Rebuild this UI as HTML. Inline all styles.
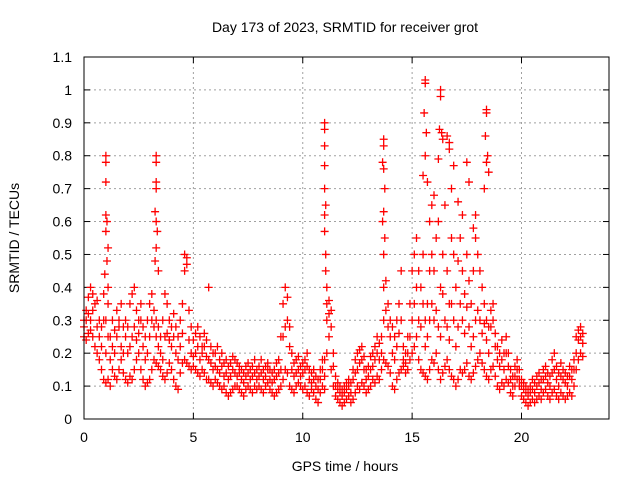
<!DOCTYPE html>
<html><head><meta charset="utf-8"><style>
html,body{margin:0;padding:0;background:#fff}
svg{display:block;font-family:"Liberation Sans",sans-serif}
</style></head><body>
<svg id="chart" width="640" height="480" viewBox="0 0 640 480">
<rect width="640" height="480" fill="#fff"/>
<text x="345" y="32" font-size="14" text-anchor="middle">Day 173 of 2023, SRMTID for receiver grot</text>
<g id="grid"></g>
<g id="ticks"></g>
<g id="marks"></g>
<rect x="84" y="57" width="525" height="362" fill="none" stroke="#000" stroke-width="1"/>
<text transform="translate(19,238) rotate(-90)" font-size="14" text-anchor="middle">SRMTID / TECUs</text>
<text x="345" y="471" font-size="14" text-anchor="middle">GPS time / hours</text>
</svg>
<script>
const xTicks=[0,5,10,15,20];
const yTicks=[0,0.1,0.2,0.3,0.4,0.5,0.6,0.7,0.8,0.9,1,1.1];
const yTickLabels=["0","0.1","0.2","0.3","0.4","0.5","0.6","0.7","0.8","0.9","1","1.1"];
const tStep=0.1;
const lowV=[.25,.24,.26,.27,.25,.22,.20,.18,.15,.12,
.11,.12,.10,.15,.13,.12,.15,.18,.14,.12,
.11,.13,.12,.15,.18,.20,.15,.12,.10,.11,
.12,.15,.18,.17,.16,.15,.13,.12,.14,.17,
.15,.12,.10,.09,.14,.17,.18,.17,.16,.15,
.16,.15,.14,.13,.15,.14,.12,.12,.11,.10,
.12,.11,.10,.09,.10,.08,.07,.08,.09,.10,
.10,.09,.08,.07,.09,.10,.09,.08,.10,.09,
.10,.09,.08,.10,.11,.09,.08,.07,.08,.09,
.10,.12,.15,.14,.10,.09,.08,.10,.11,.10,
.09,.10,.08,.07,.09,.08,.06,.05,.08,.10,
.09,.20,.25,.15,.10,.07,.06,.05,.04,.05,
.06,.07,.05,.06,.08,.10,.09,.11,.10,.08,
.09,.10,.12,.11,.13,.12,.15,.18,.17,.16,
.14,.10,.09,.12,.14,.15,.16,.14,.15,.18,
.20,.22,.25,.18,.15,.14,.13,.12,.15,.18,
.17,.20,.15,.12,.14,.16,.18,.15,.13,.12,
.10,.12,.15,.14,.15,.17,.13,.12,.14,.16,
.18,.20,.17,.15,.13,.12,.15,.16,.13,.10,
.09,.11,.10,.12,.11,.08,.07,.10,.12,.10,
.07,.06,.05,.04,.05,.06,.05,.06,.07,.06,
.08,.09,.07,.06,.08,.09,.07,.06,.08,.07,
.06,.07,.08,.07,.10,.15,.18,.20,.19];
const midV=[.28,.30,.32,.30,.33,.35,.28,.25,.22,.30,
.20,.25,.18,.22,.20,.25,.28,.22,.20,.25,
.20,.22,.25,.28,.24,.26,.30,.22,.18,.20,
.25,.30,.28,.25,.22,.20,.18,.25,.26,.24,
.22,.25,.20,.18,.22,.26,.45,.47,.24,.20,
.19,.20,.22,.18,.20,.22,.19,.18,.17,.15,
.16,.15,.14,.16,.13,.14,.12,.13,.15,.14,
.13,.14,.12,.11,.13,.14,.12,.13,.14,.12,
.13,.14,.12,.13,.15,.12,.11,.12,.13,.14,
.15,.25,.28,.30,.22,.15,.13,.14,.15,.13,
.14,.15,.16,.12,.11,.12,.10,.09,.12,.15,
.13,.30,.32,.28,.16,.10,.09,.08,.07,.08,
.09,.10,.08,.12,.14,.15,.17,.18,.15,.12,
.13,.15,.16,.18,.20,.18,.20,.30,.33,.28,
.25,.20,.18,.22,.26,.30,.18,.17,.20,.25,
.30,.35,.40,.30,.28,.35,.22,.25,.30,.35,
.30,.33,.28,.25,.38,.30,.28,.24,.35,.30,
.22,.28,.35,.30,.26,.34,.28,.22,.25,.30,
.33,.30,.26,.29,.24,.20,.28,.30,.22,.18,
.16,.18,.15,.20,.16,.12,.10,.13,.15,.12,
.10,.09,.08,.07,.08,.09,.08,.10,.11,.09,
.12,.13,.11,.10,.14,.15,.12,.10,.13,.12,
.11,.10,.13,.12,.15,.20,.24,.25,.23];
const highV=[.30,.33,.37,.40,.38,.35,.36,.30,.28,.38,
.30,.35,.25,.30,.27,.33,.30,.35,.28,.30,
.28,.35,.38,.40,.33,.30,.35,.28,.25,.30,
.35,.38,.33,.30,.28,.25,.30,.38,.35,.30,
.28,.32,.28,.25,.30,.35,.50,.49,.33,.28,
.24,.26,.28,.25,.22,.26,.24,.40,.22,.20,
.20,.22,.18,.20,.17,.18,.16,.17,.19,.18,
.17,.16,.15,.14,.16,.17,.15,.16,.18,.15,
.16,.18,.15,.16,.17,.15,.14,.15,.17,.18,
.25,.35,.40,.37,.28,.20,.17,.18,.19,.16,
.17,.18,.20,.15,.14,.15,.13,.12,.15,.18,
.18,.35,.36,.33,.20,.13,.11,.10,.09,.10,
.11,.12,.11,.15,.18,.20,.21,.22,.19,.15,
.16,.19,.20,.22,.25,.23,.25,.40,.42,.35,
.30,.28,.25,.30,.35,.45,.22,.20,.25,.35,
.45,.50,.55,.45,.40,.50,.30,.35,.45,.50,
.45,.55,.60,.40,.50,.65,.45,.35,.55,.50,
.40,.48,.55,.45,.38,.50,.42,.35,.45,.55,
.50,.45,.40,.35,.30,.28,.33,.35,.26,.22,
.20,.24,.20,.25,.20,.15,.13,.16,.18,.15,
.12,.11,.10,.09,.10,.12,.11,.13,.14,.12,
.15,.16,.14,.13,.18,.20,.16,.14,.17,.15,
.14,.13,.16,.15,.18,.25,.27,.28,.26];
const spikeT=[1.0,1.0,1.0,1.0,1.05,1.0,1.1,1.05,0.95,1.1,
3.3,3.3,3.3,3.3,3.25,3.3,3.35,3.3,3.25,3.4,
11.0,11.0,11.0,11.0,11.0,11.05,11.0,11.0,11.05,11.05,11.1,
13.7,13.7,13.65,13.7,13.75,13.7,13.65,13.75,13.7,
15.6,15.6,15.55,15.65,15.6,15.5,15.7,15.8,
16.3,16.3,16.25,16.35,16.4,16.2,16.6,16.7,16.7,16.9,16.8,17.1,17.5,17.6,17.3,
18.4,18.4,18.35,18.45,18.4,18.5,18.3,15.9,16.0,17.8,17.9];
const spikeV=[.80,.78,.72,.62,.60,.57,.52,.48,.44,.40,
.80,.78,.72,.70,.63,.60,.57,.52,.48,.45,
.90,.88,.83,.77,.70,.65,.62,.57,.50,.45,.40,
.85,.83,.78,.76,.70,.63,.60,.55,.50,
1.03,1.02,.93,.87,.80,.74,.72,.60,
1.00,.98,.88,.87,.85,.79,.86,.84,.82,.77,.70,.66,.78,.72,.62,
.94,.93,.86,.80,.78,.75,.70,.65,.68,.58,.62];

const NS='http://www.w3.org/2000/svg';
const X0=84,X1=609,Y0=419,Y1=57,XMAX=24,YMAX=1.1;
function xs(t){return X0+(X1-X0)*t/XMAX;}
function ys(v){return Y0-(Y0-Y1)*v/YMAX;}
const grid=document.getElementById('grid'),ticks=document.getElementById('ticks'),marks=document.getElementById('marks');
function mk(tag,attrs,parent){const e=document.createElementNS(NS,tag);for(const k in attrs)e.setAttribute(k,attrs[k]);parent.appendChild(e);return e;}
yTicks.forEach((v,i)=>{
  const y=ys(v);
  if(i>0&&i<yTicks.length-1){const g=mk('line',{x1:X0,x2:X1,y1:y,y2:y,stroke:'#a0a0a0','stroke-dasharray':'2,3'},grid);
  
  }
  mk('line',{x1:X0,x2:X0+6,y1:y,y2:y,stroke:'#000'},ticks);
  mk('line',{x1:X1-6,x2:X1,y1:y,y2:y,stroke:'#000'},ticks);
  const t=mk('text',{x:X0-12,y:y+5,'font-size':14,'text-anchor':'end'},ticks);
  t.textContent=yTickLabels[i];
  
  
});
xTicks.forEach(v=>{
  const x=xs(v);
  if(v>0){const g=mk('line',{x1:x,x2:x,y1:Y1,y2:Y0,stroke:'#a0a0a0','stroke-dasharray':'2,3'},grid);
  
  }
  mk('line',{x1:x,x2:x,y1:Y0,y2:Y0-6,stroke:'#000'},ticks);
  mk('line',{x1:x,x2:x,y1:Y1,y2:Y1+6,stroke:'#000'},ticks);
  const t=mk('text',{x:x,y:442,'font-size':14,'text-anchor':'middle'},ticks);
  t.textContent=String(v);
  
  
});
let d='';
function plus(t,v){const x=xs(t),y=ys(v);d+='M'+(x-4)+' '+y+'h8M'+x+' '+(y-4)+'v8';}
[lowV,midV,highV].forEach(arr=>arr.forEach((v,i)=>plus(i*tStep,v)));
spikeT.forEach((t,i)=>plus(t,spikeV[i]));
const p=mk('path',{d:d,stroke:'#ff0000','stroke-width':1.3,fill:'none'},marks);


</script>
</body></html>
